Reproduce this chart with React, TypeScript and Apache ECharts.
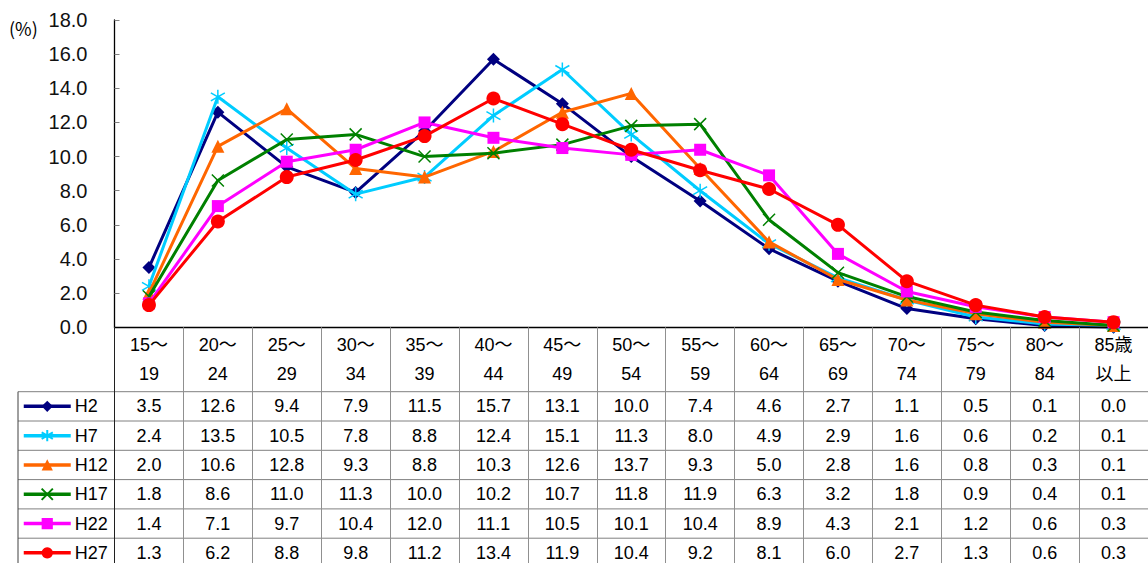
import React, { useEffect, useRef } from "react";
import * as echarts from "echarts";

const catTop = ["15～", "20～", "25～", "30～", "35～", "40～", "45～", "50～", "55～", "60～", "65～", "70～", "75～", "80～", "85歳"];
const catBottom = ["19", "24", "29", "34", "39", "44", "49", "54", "59", "64", "69", "74", "79", "84", "以上"];
const seriesNames = ["H2", "H7", "H12", "H17", "H22", "H27"];
const h2 = [3.5, 12.6, 9.4, 7.9, 11.5, 15.7, 13.1, 10.0, 7.4, 4.6, 2.7, 1.1, 0.5, 0.1, 0.0];
const h7 = [2.4, 13.5, 10.5, 7.8, 8.8, 12.4, 15.1, 11.3, 8.0, 4.9, 2.9, 1.6, 0.6, 0.2, 0.1];
const h12 = [2.0, 10.6, 12.8, 9.3, 8.8, 10.3, 12.6, 13.7, 9.3, 5.0, 2.8, 1.6, 0.8, 0.3, 0.1];
const h17 = [1.8, 8.6, 11.0, 11.3, 10.0, 10.2, 10.7, 11.8, 11.9, 6.3, 3.2, 1.8, 0.9, 0.4, 0.1];
const h22 = [1.4, 7.1, 9.7, 10.4, 12.0, 11.1, 10.5, 10.1, 10.4, 8.9, 4.3, 2.1, 1.2, 0.6, 0.3];
const h27 = [1.3, 6.2, 8.8, 9.8, 11.2, 13.4, 11.9, 10.4, 9.2, 8.1, 6.0, 2.7, 1.3, 0.6, 0.3];
const seriesData = [h2, h7, h12, h17, h22, h27];
const yTicks = [0, 2, 4, 6, 8, 10, 12, 14, 16, 18];

const colors = ["#000080", "#00CCFF", "#FF6600", "#008000", "#FF00FF", "#FF0000"];
const symbols = [
  "diamond",
  "path://M6,0L6,14M0,3L12,11M12,3L0,11",
  "triangle",
  "path://M0,0L12,12M12,0L0,12",
  "rect",
  "circle",
];
const symbolSizes = [13, 14, 13, 12, 12, 14];

const FONT = "'Liberation Sans', 'Noto Sans CJK JP', sans-serif";
const W = 1148;
const H = 563;
const GRID_LEFT = 114.5;
const GRID_TOP = 20;
const AXIS_Y = 327.3;
const HEADER_BOTTOM = 391.7;
const ROW_H = 29.3;
const TABLE_LEFT = 18;
const LEGEND_H = 20;

export default function App() {
  const ref = useRef<HTMLDivElement>(null);
  useEffect(() => {
    if (!ref.current) return;
    const chart = echarts.init(ref.current, undefined, { renderer: "svg" });
    const rowCenters = seriesNames.map((_, i) => HEADER_BOTTOM + ROW_H * i + ROW_H / 2);

    const valueAxes = seriesData.map((vals, i) => ({
      type: "category" as const,
      gridIndex: 0,
      position: "bottom" as const,
      offset: rowCenters[i] - AXIS_Y,
      data: catTop,
      axisLine: { show: false },
      axisTick: { show: false },
      splitLine: { show: false },
      axisLabel: {
        interval: 0,
        margin: 0,
        verticalAlign: "middle" as const,
        fontSize: 18,
        fontFamily: FONT,
        color: "#000",
        formatter: (_v: string, idx: number) => vals[idx].toFixed(1),
      },
    }));

    const legends = seriesNames.map((name, i) => ({
      orient: "horizontal" as const,
      left: 22,
      top: rowCenters[i] - LEGEND_H / 2,
      height: LEGEND_H,
      itemWidth: 47,
      itemHeight: 14,
      itemGap: 0,
      lineStyle: { width: 3.5 },
      textStyle: { fontSize: 18, fontFamily: FONT, color: "#000", lineHeight: LEGEND_H, padding: [0, 0, 0, -1] },
      data: [name],
      selectedMode: false,
      padding: 0,
    }));

    const lines: any[] = [];
    for (let i = 0; i <= seriesNames.length; i++) {
      const y = HEADER_BOTTOM + ROW_H * i;
      lines.push({
        type: "line",
        shape: { x1: TABLE_LEFT, y1: y, x2: W, y2: y },
        style: { stroke: "#808080", lineWidth: 1 },
        silent: true,
      });
    }
    lines.push({
      type: "line",
      shape: { x1: TABLE_LEFT, y1: HEADER_BOTTOM, x2: TABLE_LEFT, y2: H },
      style: { stroke: "#404040", lineWidth: 1 },
      silent: true,
    });
    lines.push({
      type: "line",
      shape: { x1: GRID_LEFT, y1: AXIS_Y, x2: GRID_LEFT, y2: H },
      style: { stroke: "#202020", lineWidth: 1 },
      silent: true,
      z: 10,
    });
    lines.push({
      type: "text",
      left: 9,
      top: 19,
      style: { text: "(%)", fontSize: 18, fontFamily: "'Noto Sans CJK JP', sans-serif", fill: "#000" },
    });

    chart.setOption({
      animation: false,
      backgroundColor: "#fff",
      grid: { left: GRID_LEFT, right: 0, top: GRID_TOP, bottom: H - AXIS_Y, containLabel: false },
      legend: legends,
      xAxis: [
        {
          type: "category",
          data: catTop,
          boundaryGap: true,
          axisLine: { show: true, lineStyle: { color: "#000", width: 1.3 } },
          axisTick: { show: true, length: H - AXIS_Y, lineStyle: { color: "#909090", width: 1 } },
          axisLabel: {
            interval: 0,
            margin: 3,
            fontSize: 18,
            lineHeight: 29,
            fontFamily: FONT,
            color: "#000",
            formatter: (_v: string, idx: number) => catTop[idx] + "\n" + catBottom[idx],
          },
          splitLine: { show: false },
          z: 5,
        },
        ...valueAxes,
      ],
      yAxis: {
        type: "value",
        min: yTicks[0],
        max: yTicks[yTicks.length - 1],
        interval: 2,
        axisLine: { show: true, lineStyle: { color: "#000", width: 1.3 } },
        axisTick: { show: true, inside: true, length: 5, lineStyle: { color: "#808080" } },
        splitLine: { show: false },
        axisLabel: {
          margin: 27,
          fontSize: 20,
          fontFamily: FONT,
          color: "#111",
          formatter: (v: number) => v.toFixed(1),
        },
      },
      series: seriesNames.map((name, i) => ({
        name,
        type: "line",
        xAxisIndex: 0,
        data: seriesData[i],
        symbol: symbols[i],
        symbolSize: symbolSizes[i],
        showAllSymbol: true,
        lineStyle: { color: colors[i], width: 3 },
        itemStyle: {
          color: colors[i],
          borderColor: colors[i],
          borderWidth: symbols[i].startsWith("path") ? 1.5 : 0,
        },
        z: 2 + i,
      })),
      graphic: lines,
    });
    return () => chart.dispose();
  }, []);
  return <div ref={ref} style={{ position: "fixed", left: 0, top: 0, width: W, height: H, background: "#fff" }} />;
}
